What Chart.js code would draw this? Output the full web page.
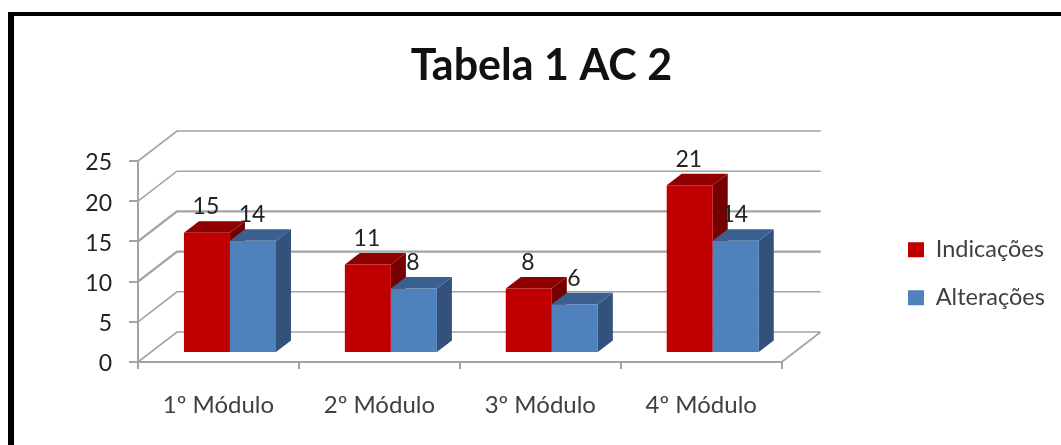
<!DOCTYPE html>
<html><head><meta charset="utf-8">
<style>html,body{margin:0;padding:0;background:#fff}canvas{display:block}</style>
<script src="https://cdn.jsdelivr.net/npm/chart.js@4/dist/chart.umd.min.js"></script>
</head><body><canvas id="c" width="1061" height="445"></canvas>
<script>
const categories = ['1º Módulo','2º Módulo','3º Módulo','4º Módulo'];
const indicacoes = [15,11,8,21];
const alteracoes = [14,8,6,14];
const titleText = 'Tabela 1 AC 2';
const FONT = 'Lato, Carlito, sans-serif';
const WALL = {dx:39, dy:-30};
const BAR_OFF = {dx:11.5, dy:-10};
const BAR_DEPTH = {dx:15, dy:-11.5};
const faces = [
  {side:'#760000', top:'#8f0000'},
  {side:'#32527c', top:'#3b6090'}
];
const three = {
  id:'three',
  afterLayout(chart){
    const t = chart.titleBlock; t.left = 0; t.right = 1083;
    const l = chart.legend, p = l.options.labels.padding;
    l.left = 908 - p; l.right = l.left + l.width;
    l.top = 238 - p; l.bottom = l.top + l.height;
  },
  beforeDatasetsDraw(chart){
    const {ctx, scales:{x,y}} = chart;
    ctx.save();
    ctx.strokeStyle = '#a3a3a3';
    y.ticks.forEach(tk=>{
      const py = y.getPixelForValue(tk.value);
      ctx.lineWidth = (tk.value===10||tk.value===15) ? 2.4 : 1.6;
      ctx.beginPath();
      ctx.moveTo(x.left,py);
      ctx.lineTo(x.left+WALL.dx,py+WALL.dy);
      ctx.lineTo(x.right+WALL.dx,py+WALL.dy);
      if(tk.value===0){ ctx.moveTo(x.right,py); ctx.lineTo(x.right+WALL.dx,py+WALL.dy); }
      ctx.stroke();
    });
    ctx.restore();
    // Indicações is painted first so the Alterações bar overlaps its side face.
    ctx.save();
    ctx.translate(BAR_OFF.dx,BAR_OFF.dy);
    chart.data.datasets.forEach((ds,i)=>{
      const meta = chart.getDatasetMeta(i), f = faces[i];
      meta.data.forEach(el=>{
        const L = el.x-el.width/2, R = el.x+el.width/2, T = el.y, B = el.base;
        ctx.fillStyle = f.side;
        ctx.beginPath();
        ctx.moveTo(R,T);ctx.lineTo(R+BAR_DEPTH.dx,T+BAR_DEPTH.dy);
        ctx.lineTo(R+BAR_DEPTH.dx,B+BAR_DEPTH.dy);ctx.lineTo(R,B);ctx.closePath();ctx.fill();
        ctx.fillStyle = f.top;
        ctx.beginPath();
        ctx.moveTo(L,T);ctx.lineTo(L+BAR_DEPTH.dx,T+BAR_DEPTH.dy);
        ctx.lineTo(R+BAR_DEPTH.dx,T+BAR_DEPTH.dy);ctx.lineTo(R,T);ctx.closePath();ctx.fill();
      });
      meta.controller.draw();
    });
    ctx.restore();
  },
  beforeDatasetDraw(){ return false; },
  afterDatasetsDraw(chart){
    const {ctx} = chart;
    ctx.save();
    ctx.font = '23px '+FONT;
    ctx.fillStyle = '#222';
    ctx.textAlign = 'center';
    ctx.textBaseline = 'middle';
    chart.data.datasets.forEach((ds,i)=>{
      chart.getDatasetMeta(i).data.forEach((el,j)=>{
        ctx.fillText(String(ds.data[j]), el.x+BAR_OFF.dx-1, el.y+BAR_OFF.dy-26);
      });
    });
    ctx.restore();
  },
  afterDraw(chart){
    const {ctx} = chart;
    ctx.save();
    ctx.fillStyle = '#000';
    ctx.fillRect(8,12,1053,4);
    ctx.fillRect(8,12,6,433);
    ctx.restore();
  }
};
new Chart(document.getElementById('c'),{
  type:'bar',
  data:{labels:categories,datasets:[
    {label:'Indicações',data:indicacoes,backgroundColor:'#c00000',yAxisID:'yB'},
    {label:'Alterações',data:alteracoes,backgroundColor:'#4f81bd',yAxisID:'yB'}
  ]},
  options:{
    responsive:false,animation:false,
    layout:{padding:{left:0,right:279.3,top:0,bottom:0}},
    datasets:{bar:{categoryPercentage:0.572,barPercentage:1}},
    scales:{
      x:{
        grid:{drawOnChartArea:false,tickLength:7,tickColor:'#a3a3a3',lineWidth:2},
        border:{color:'#a3a3a3',width:2},
        ticks:{font:{family:FONT,size:24},color:'#404040',padding:22,maxRotation:0},
        afterFit(s){s.height=83;}
      },
      y:{
        min:0,max:25,
        grid:{drawOnChartArea:false,tickLength:9,tickColor:'#a3a3a3',lineWidth:2},
        border:{color:'#a3a3a3',width:2},
        ticks:{stepSize:5,font:{family:FONT,size:23},color:'#222',padding:17,labelOffset:2},
        afterFit(s){s.width=138;}
      },
      yB:{display:false,min:0,max:25.3,position:'left'}
    },
    plugins:{
      tooltip:{enabled:false},
      title:{display:true,text:titleText,color:'#111',font:{family:FONT,size:43,weight:'bold'},padding:{top:40,bottom:69.4}},
      legend:{
        position:'chartArea',align:'start',
        labels:{boxWidth:16,boxHeight:15,padding:24.5,color:'#404040',font:{family:FONT,size:23.5}}
      }
    }
  },
  plugins:[three]
});
</script></body></html>
